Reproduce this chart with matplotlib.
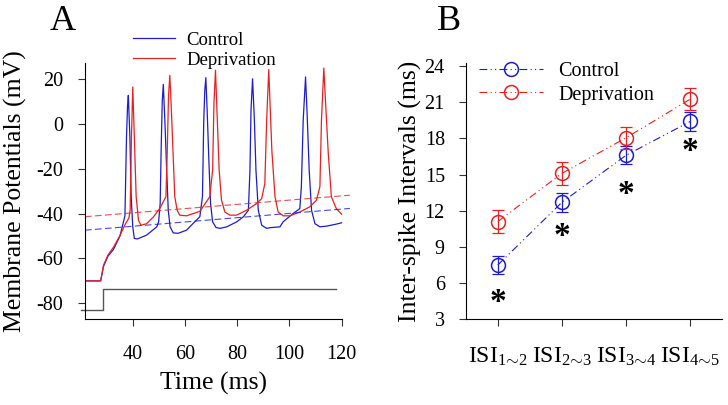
import numpy as np
import matplotlib
matplotlib.use("Agg")
import matplotlib.pyplot as plt

plt.rcParams['font.family'] = ['Liberation Serif', 'DejaVu Serif']
plt.rcParams['mathtext.fontset'] = 'custom'
plt.rcParams['mathtext.rm'] = 'Liberation Serif'
plt.rcParams['mathtext.it'] = 'Liberation Serif:italic'
plt.rcParams['axes.unicode_minus'] = False

# ---- panel A: membrane potential traces ----
ctrl_t = [21.7, 27.7, 28.8, 30.5, 32.6, 35.1, 37.0, 37.6, 38.0, 38.3, 38.9, 39.4, 40.0, 40.6,
          41.8, 45.3, 49.2, 49.9, 50.5, 50.9, 51.3, 51.7, 52.3, 53.0, 53.6, 54.3, 55.5, 57.4,
          60.6, 63.2, 65.7, 66.7, 67.2, 67.6, 68.0, 68.5, 69.2, 69.8, 70.6, 71.9, 73.4, 76.0,
          79.8, 82.4, 84.3, 84.9, 85.3, 85.9, 86.6, 87.2, 88.1, 89.4, 91.3, 92.5, 96.4, 97.6,
          101.4, 104.0, 104.6, 105.3, 106.2, 106.8, 107.6, 108.5, 109.8, 111.7, 114.2, 118.0, 120.0]
ctrl_v = [-70, -70, -63.5, -59, -56, -50, -41, -5.8, 8, 12.7, -5.8, -32.5, -45.9, -51.1,
          -51.3, -49.6, -45.9, -43.7, -35.5, -10, 10, 17.6, 1.6, -20.7, -38.5, -45.9, -48.6, -48.8,
          -47.4, -44.3, -41.4, -32.5, 1.6, 15, 20.6, 6.1, -17.7, -35.5, -43.7, -46.2, -46.6, -45.9,
          -43.7, -41.4, -38.5, -20.7, 6, 20.1, 1.6, -20.7, -38.5, -45.2, -46.6, -46.3, -45.9, -43.7,
          -40, -37.8, -28, 1.6, 20.9, 4.6, -20.7, -38.5, -44.5, -45.9, -45.6, -44.7, -44.1]

depr_t = [21.7, 27.7, 28.8, 30.5, 32.6, 35.0, 37.0, 38.5, 39.0, 39.5, 40.0, 40.6, 41.3, 42.2,
          43.1, 45.3, 47.9, 50.4, 52.7, 53.2, 53.7, 54.2, 54.8, 55.5, 56.1, 57.0, 58.0, 60.6,
          65.7, 69.5, 70.6, 71.1, 71.7, 72.3, 73.1, 74.0, 75.3, 77.2, 79.8, 83.6, 87.5, 89.4,
          90.6, 91.3, 92.1, 92.6, 93.3, 94.5, 95.7, 97.6, 100.2, 104.0, 107.8, 110.4, 111.7,
          112.3, 113.2, 113.9, 114.9, 116.1, 118.0, 120.0]
depr_v = [-70, -70, -63, -58.5, -55, -50, -45, -42, -38.5, -5.8, 16.4, -5.8, -32.5, -43,
          -45.2, -44.5, -41.5, -37.6, -32.5, -13, 12.5, 21.6, 6, -14.7, -32.5, -38.5, -40.7, -41,
          -39, -32.5, -20.7, 9, 23.9, 4.6, -20.7, -34, -39.3, -40.7, -40.7, -38.5, -35.5, -33.3,
          -26.6, 1.6, 24.2, 9, -12, -32.5, -39.3, -41, -41, -39.3, -37, -34, -28,
          1.6, 24.9, 9, -13, -32.5, -37.8, -40.3]

trend_t = [21.7, 123.2]
ctrl_trend = [-47.4, -37.7]
depr_trend = [-41.4, -31.8]

stim_t = [20.0, 28.5, 28.5, 118.0]
stim_v = [-83.0, -83.0, -73.8, -73.8]

# ---- panel B: inter-spike intervals ----
isi_labels = [r'ISI$_{1\!\sim\!2}$', r'ISI$_{2\!\sim\!3}$', r'ISI$_{3\!\sim\!4}$', r'ISI$_{4\!\sim\!5}$']
ctrl_isi = [7.5, 12.7, 16.6, 19.4]
ctrl_err = [0.76, 0.79, 0.73, 0.79]
depr_isi = [11.1, 15.1, 18.05, 21.25]
depr_err = [0.94, 0.98, 0.9, 0.9]
star_y = [5.0, 10.4, 13.9, 17.45]

blue = '#1c1cd0'
red = '#e82020'

fig = plt.figure(figsize=(7.28, 4.05), dpi=100)

# panel A
axA = fig.add_axes([85/728, 86/405, 267/728, 255.7/405])
axA.plot(ctrl_t, ctrl_v, color=blue, lw=0.9, label='Control')
axA.plot(depr_t, depr_v, color=red, lw=0.9, label='Deprivation')
axA.plot(trend_t, ctrl_trend, color=blue, lw=0.8, ls=(0, (6, 3)), alpha=0.8, clip_on=False)
axA.plot(trend_t, depr_trend, color=red, lw=0.8, ls=(0, (6, 3)), alpha=0.8, clip_on=False)
axA.plot(stim_t, stim_v, color='#555555', lw=1.0, clip_on=False)
axA.set_xlim(21.7, 124)
axA.set_ylim(-87, 27)
axA.set_xticks([40, 60, 80, 100, 120])
axA.set_yticks([-80, -60, -40, -20, 0, 20])
axA.spines['bottom'].set_bounds(21.7, 120)
for s in ['top', 'right']:
    axA.spines[s].set_visible(False)
axA.tick_params(axis='x', labelsize=14.5, length=5, pad=13.5, color='#333333')
axA.tick_params(axis='y', labelsize=14.5, length=5, pad=10.5, color='#333333')
axA.set_xlabel('Time (ms)', fontsize=18.5)
axA.set_ylabel('Membrane Potentials (mV)', fontsize=18.5)
axA.xaxis.set_label_coords(0.481, -0.205)
axA.yaxis.set_label_coords(-0.2175, 0.5)
fig.legend(handles=axA.lines[:2], loc='center left', bbox_to_anchor=(133/728, 1 - 50/405),
           frameon=False, fontsize=13.5, handlelength=2.25, handletextpad=0.6,
           labelspacing=0.15, borderpad=0, borderaxespad=0)

# panel B
axB = fig.add_axes([465.7/728, 85.7/405, 256.6/728, 256.3/405])
x = np.arange(1, len(isi_labels) + 1)
lc, = axB.plot(x, ctrl_isi, color=blue, lw=0.8, ls=(0, (7, 3, 1, 3, 1, 3)), marker='o',
               mfc='none', mec=blue, ms=10, mew=1.1, label='Control')
ld, = axB.plot(x, depr_isi, color=red, lw=0.8, ls=(0, (7, 3, 1, 3, 1, 3)), marker='o',
               mfc='none', mec=red, ms=10, mew=1.1, label='Deprivation')
axB.errorbar(x, ctrl_isi, yerr=ctrl_err, fmt='none', ecolor=blue, elinewidth=0.9, capsize=4, capthick=0.9)
axB.errorbar(x, depr_isi, yerr=depr_err, fmt='none', ecolor=red, elinewidth=0.9, capsize=4, capthick=0.9)
for xi, yi in zip(x, star_y):
    axB.annotate('*', (xi, yi), xytext=(0, -5), textcoords='offset points',
                 ha='center', va='center', fontsize=24, fontweight='bold')
axB.set_xlim(0.5, 4.5)
axB.set_ylim(3, 24.25)
axB.set_xticks(x)
axB.set_xticklabels(isi_labels)
axB.set_yticks([3, 6, 9, 12, 15, 18, 21, 24])
for s in ['top', 'right']:
    axB.spines[s].set_visible(False)
axB.tick_params(axis='x', labelsize=17, length=5, pad=14, color='#333333')
axB.tick_params(axis='y', labelsize=14.5, length=5, pad=10, color='#333333')
axB.set_ylabel('Inter-spike Intervals (ms)', fontsize=18.5)
axB.yaxis.set_label_coords(-0.169, 0.5)
axB.legend(handles=[lc, ld], loc='center left', bbox_to_anchor=(479/728, 1 - 83.4/405),
           bbox_transform=fig.transFigure, frameon=False, fontsize=14.5, numpoints=1,
           handlelength=3.2, handletextpad=0.75, labelspacing=0.2, borderpad=0, borderaxespad=0)

fig.text(50/728, 1 - 30/405, 'A', fontsize=26, va='baseline', ha='left')
fig.text(437/728, 1 - 30/405, 'B', fontsize=26, va='baseline', ha='left')

fig.savefig('out.png', dpi=100)
